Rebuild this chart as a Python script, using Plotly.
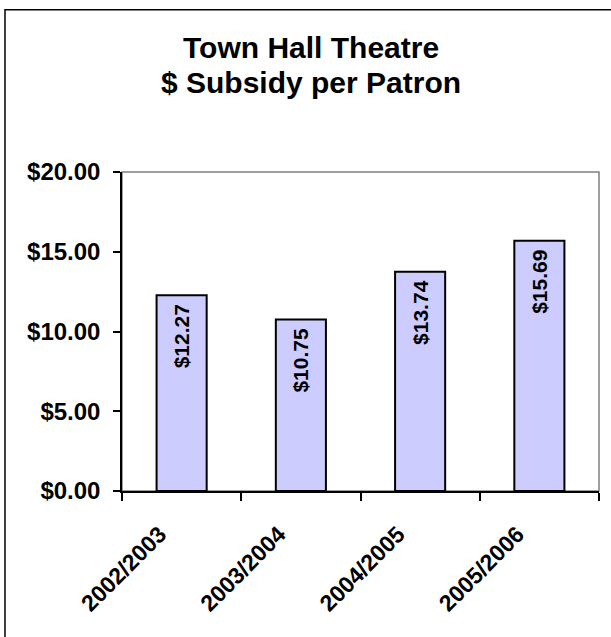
import plotly.graph_objects as go

years = ['2002/2003', '2003/2004', '2004/2005', '2005/2006']
subsidy = [12.27, 10.75, 13.74, 15.69]
labels = ['$%.2f\u00a0' % v for v in subsidy]

font_name = 'Liberation Sans, Arial, sans-serif'

fig = go.Figure()
fig.add_trace(go.Bar(
    x=years, y=subsidy, text=labels,
    textposition='inside', insidetextanchor='end', textangle=-90,
    textfont=dict(family=font_name, size=21, color='black', weight='bold'),
    marker=dict(color='#CCCCFF', line=dict(color='black', width=2)),
    width=0.42,
))

# outer chart border (only top/left fall inside the picture) and grey plot-area frame
fig.add_shape(type='rect', xref='paper', yref='paper', x0=-0.2453, x1=1.2, y0=-0.6, y1=1.509,
              line=dict(color='black', width=1.5), layer='below')
fig.add_shape(type='rect', xref='paper', yref='paper', x0=0, x1=1, y0=0, y1=1,
              line=dict(color='#808080', width=1.5), layer='below')

fig.add_annotation(text='<b>Town Hall Theatre</b>', xref='paper', yref='paper', x=0.397, y=1.389,
                   xanchor='center', yanchor='middle',
                   showarrow=False, font=dict(family=font_name, size=30, color='black'))
fig.add_annotation(text='<b>$ Subsidy per Patron</b>', xref='paper', yref='paper', x=0.397, y=1.282,
                   xanchor='center', yanchor='middle',
                   showarrow=False, font=dict(family=font_name, size=30, color='black'))

fig.update_layout(
    width=611, height=637,
    margin=dict(l=122, r=12, t=172, b=146),
    paper_bgcolor='white', plot_bgcolor='white',
    showlegend=False,
    xaxis=dict(
        showline=True, linecolor='black', linewidth=1.5,
        ticks='outside', tickson='boundaries', ticklen=8, tickcolor='black', tickwidth=1.5,
        tickangle=-45, ticklabelstandoff=19, ticklabelshift=-22,
        tickfont=dict(family=font_name, size=23, color='black', weight='bold'),
        showgrid=False,
    ),
    yaxis=dict(
        range=[0, 20], tickvals=[0, 5, 10, 15, 20],
        ticktext=['$0.00', '$5.00', '$10.00', '$15.00', '$20.00'],
        showline=True, linecolor='black', linewidth=1.5,
        ticks='outside', ticklen=7, tickcolor='black', tickwidth=1.5,
        ticklabelstandoff=8,
        tickfont=dict(family=font_name, size=24, color='black', weight='bold'),
        showgrid=False, zeroline=False,
    ),
)

# drop the browser's default body margin so the chart sits at the page corner
fig.write_html('out.html', config={'displayModeBar': False},
               post_script="document.body.style.margin='0';")
